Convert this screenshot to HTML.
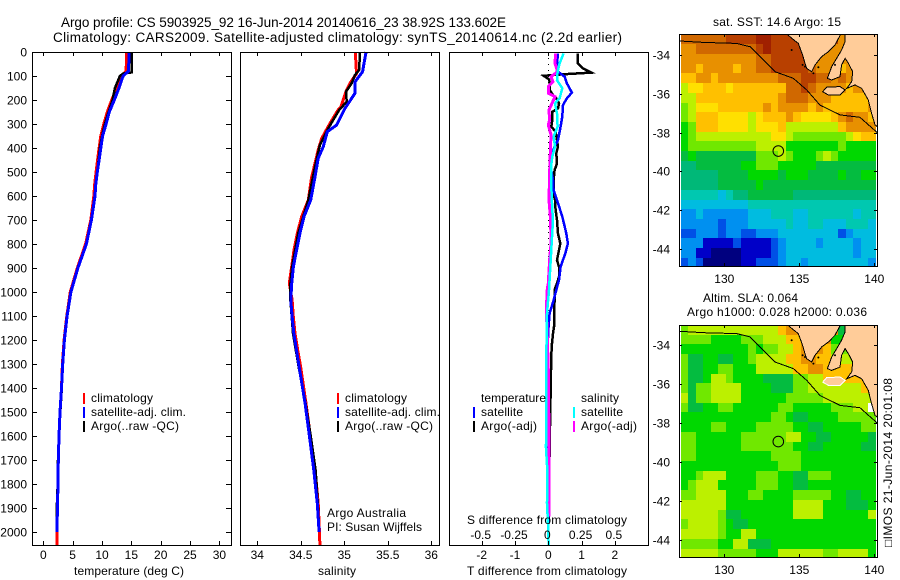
<!DOCTYPE html>
<html>
<head>
<meta charset="utf-8">
<title>Argo profile 5903925_92</title>
<style>
html,body{margin:0;padding:0;background:#fff;}
#chart{display:block;position:absolute;left:0;top:0;}
text{font-family:"Liberation Sans",sans-serif;font-size:12px;fill:#000;}
</style>
</head>
<body>
<svg id="chart" xmlns="http://www.w3.org/2000/svg" width="900" height="580" viewBox="0 0 900 580">
<rect x="0" y="0" width="900" height="580" fill="#fff"/>
<defs>
<clipPath id="clip-map1"><rect x="679.5" y="34.5" width="198" height="232"/></clipPath>
<clipPath id="clip-map2"><rect x="679.5" y="325.5" width="198" height="232"/></clipPath>
</defs>
<text x="61" y="27" style="font-size:13.5px" textLength="445" lengthAdjust="spacing">Argo profile: CS 5903925_92 16-Jun-2014 20140616_23 38.92S 133.602E</text>
<text x="53" y="42" style="font-size:13.5px" textLength="569" lengthAdjust="spacing">Climatology: CARS2009. Satellite-adjusted climatology: synTS_20140614.nc (2.2d earlier)</text>

<g id="temp-panel"></g>
<g id="sal-panel"></g>
<g id="diff-panel"></g>
<g id="sst-map"></g>
<g id="sla-map"></g>

<text x="74" y="575" textLength="110" lengthAdjust="spacing">temperature (deg C)</text>
<text x="318" y="575" textLength="38" lengthAdjust="spacing">salinity</text>
<text x="467" y="575" textLength="160" lengthAdjust="spacing">T difference from climatology</text>
<text x="467" y="524" textLength="160" lengthAdjust="spacing">S difference from climatology</text>

<g>
<rect x="83" y="393" width="2" height="11" fill="#f00"/>
<text x="91" y="402" textLength="62" lengthAdjust="spacing">climatology</text>
<rect x="83" y="407" width="2" height="11" fill="#00f"/>
<text x="91" y="416" textLength="95" lengthAdjust="spacing">satellite-adj. clim.</text>
<rect x="83" y="421" width="2" height="11" fill="#000"/>
<text x="91" y="430" textLength="88" lengthAdjust="spacing">Argo(..raw -QC)</text>
</g>
<g>
<rect x="337" y="393" width="2" height="11" fill="#f00"/>
<text x="345" y="402" textLength="62" lengthAdjust="spacing">climatology</text>
<rect x="337" y="407" width="2" height="11" fill="#00f"/>
<text x="345" y="416" textLength="95" lengthAdjust="spacing">satellite-adj. clim.</text>
<rect x="337" y="421" width="2" height="11" fill="#000"/>
<text x="345" y="430" textLength="88" lengthAdjust="spacing">Argo(..raw -QC)</text>
</g>
<text x="327" y="517" textLength="79" lengthAdjust="spacing">Argo Australia</text>
<text x="327" y="531" textLength="95" lengthAdjust="spacing">PI: Susan Wijffels</text>
<g>
<text x="481" y="402" textLength="65" lengthAdjust="spacing">temperature</text>
<rect x="473" y="407" width="2" height="11" fill="#00f"/>
<text x="481" y="416" textLength="42" lengthAdjust="spacing">satellite</text>
<rect x="473" y="421" width="2" height="11" fill="#000"/>
<text x="481" y="430" textLength="56" lengthAdjust="spacing">Argo(-adj)</text>
<text x="581" y="402" textLength="38" lengthAdjust="spacing">salinity</text>
<rect x="573" y="407" width="2" height="11" fill="#0ff"/>
<text x="581" y="416" textLength="42" lengthAdjust="spacing">satellite</text>
<rect x="573" y="421" width="2" height="11" fill="#f0f"/>
<text x="581" y="430" textLength="56" lengthAdjust="spacing">Argo(-adj)</text>
</g>

<text x="713" y="26" textLength="128" lengthAdjust="spacing">sat. SST: 14.6 Argo: 15</text>
<text x="703" y="302" textLength="95" lengthAdjust="spacing">Altim. SLA: 0.064</text>
<text x="687" y="316" textLength="180" lengthAdjust="spacing">Argo h1000: 0.028 h2000: 0.036</text>
<text transform="translate(892 547) rotate(-90)" x="0" y="0" textLength="169" lengthAdjust="spacing">□IMOS 21-Jun-2014 20:01:08</text>
</svg>

<script>
// ---------- Profile data ----------
const depthTicks = [0,100,200,300,400,500,600,700,800,900,1000,1100,1200,1300,1400,1500,1600,1700,1800,1900,2000];
const tempTicks = [0,5,10,15,20,25,30];
const salTicks = [34,34.5,35,35.5,36];
const salTickLabels = ['34','34.5','35','35.5','36'];
const tDiffTicks = [-2,-1,0,1,2];
const sDiffTicks = [-0.5,-0.25,0,0.25,0.5];
const sDiffTickLabels = ['-0.5','-0.25','0','0.25','0.5'];

const climTempDepth = [0,80,100,150,200,250,300,350,400,450,500,550,600,700,800,900,1000,1100,1200,1300,1400,1500,1600,1700,1800,1900,2000,2055];
const climTemp = [14.2,14.1,13.4,12.5,11.65,10.9,10.3,9.8,9.5,9.25,9.0,8.75,8.6,8.1,7.2,5.8,4.6,4.0,3.55,3.25,3.1,2.85,2.67,2.56,2.5,2.4,2.33,2.33];
const satTempDepth = [0,80,100,150,200,250,300,350,400,450,500,550,600,700,800,900,1000,1100,1200,1300,1400,1500,1600,1700,1800,1900,2000];
const satTemp = [14.65,14.5,13.6,12.9,12.1,11.25,10.7,10.1,9.8,9.5,9.2,8.95,8.8,8.2,7.35,5.9,4.7,4.05,3.6,3.3,3.1,2.85,2.67,2.56,2.5,2.4,2.33];
const argoTempDepth = [0,85,90,100,150,200,250,300,350,400,500,600,700,800,900,1000,1100,1200,1300,1400,1500,1600,1700,1800,1900,1990];
const argoTemp = [15.05,15.05,13.6,13.05,12.2,11.8,11.1,10.5,10.0,9.65,9.2,8.75,8.15,7.3,5.85,4.65,4.0,3.55,3.3,3.15,2.9,2.7,2.5,2.45,2.3,2.3];

const climSalDepth = [0,90,130,165,228,240,297,360,408,464,520,617,686,756,825,894,964,1033,1103,1172,1242,1311,1464,1603,1742,1881,2006,2055];
const climSal = [35.126,35.14,35.065,35.02,34.962,34.931,34.836,34.74,34.70,34.663,34.625,34.586,34.51,34.46,34.422,34.395,34.368,34.40,34.414,34.433,34.464,34.498,34.56,34.61,34.665,34.70,34.715,34.72];
const satSalDepth = [0,47,82,124,172,235,304,332,394,443,520,617,686,756,825,894,964,1033,1103,1172,1242,1311,1464,1603,1742,1881,2000];
const satSal = [35.25,35.226,35.21,35.123,35.123,35.008,34.913,34.805,34.759,34.70,34.663,34.614,34.537,34.49,34.452,34.415,34.395,34.385,34.40,34.42,34.45,34.48,34.55,34.60,34.65,34.69,34.71];
const argoSalDepth = [0,75,96,130,165,207,242,318,387,478,617,756,894,964,1033,1103,1172,1311,1464,1603,1742,1881,1990];
const argoSal = [35.18,35.17,35.123,35.085,35.02,35.028,34.94,34.816,34.72,34.663,34.586,34.47,34.40,34.38,34.38,34.395,34.41,34.475,34.555,34.615,34.67,34.695,34.71];

const argoDiffTDepth = [6,47,68,86,93,99,114,124,158,179,193,214,235,249,283,311,332,367,394,422,464,492,533,589,617,658,700,756,798,825,867,895,936,964,985,1034,1103,1145,1173,1214,1284,1325,1422,1561,1742,1964];
const argoDiffT = [0.89,0.89,1.04,1.29,0.44,-0.14,0.02,0.04,0.04,0.14,0.24,0.32,0.29,0.12,0.12,0.09,0.22,0.26,0.29,0.24,0.26,0.19,0.16,0.16,0.2,0.22,0.26,0.29,0.36,0.32,0.26,0.32,0.32,0.26,0.2,0.19,0.17,0.17,0.14,0.11,0.08,0.08,0.07,0.05,0.03,0.01];
const satDiffTDepth = [6,47,82,103,131,169,193,221,269,311,367,394,436,478,533,575,617,686,756,798,839,895,950,992,1034,1089,1159,1270,1325,1500,1700,2000];
const satDiffT = [0.29,0.26,0.29,0.49,0.56,0.71,0.56,0.44,0.42,0.37,0.29,0.19,0.09,0.07,0.14,0.16,0.26,0.42,0.54,0.59,0.51,0.37,0.32,0.24,0.16,0.04,0,-0.03,-0.04,-0.02,-0.01,0];
const satDiffSDepth = [6,47,82,117,151,193,214,256,311,353,394,436,478,533,658,700,800,895,992,1089,1173,1325,1650,1742,1880,1992,2055];
const satDiffS = [0.115,0.085,0.07,0.065,0.105,0.085,0.05,0.065,0.07,0.04,0.05,0.03,0.02,0.02,0.03,0.035,0.025,0.015,0.005,-0.01,-0.0125,-0.015,-0.0175,-0.0075,-0.01,0,0.002];
const argoDiffSDepth = [6,47,82,103,124,144,172,186,242,283,304,345,422,506,617,700,798,867,964,985,1075,1152,1325,1464,1561,1742,1936];
const argoDiffS = [0.055,0.05,0.07,0.02,0.035,0,0,0.05,0.005,0.01,0,0.02,0.015,0.01,0.005,0.0175,0.02,0.01,0,-0.0075,-0.015,-0.01,0,0.002,0.005,0.005,0.005];

// ---------- Map data (one colour-level character per 0.5 deg cell) ----------
const lonTicks = [130,135,140];
const latTicks = [-34,-36,-38,-40,-42,-44];
const sstRows = [
"eeeeeeffffggfffffffffddddd",
"ddeeeeeeeefgffffffdddddddd",
"ddddddddddeefffffedddddddd",
"ddcddddcddeefffffedddcdddd",
"ccddcddddddddeeeffeededcdd",
"abbcccbccccccceefeddddcddd",
"aacccccccccccdeeedddcccccc",
"9abbbccccccdcddddcdccccccd",
"9acccbbbbabcccdcbbbbcdeddc",
"89cccbbbbabbbcaaaaaaacdddd",
"89aaaaaaaaaabba9999999abcc",
"8999999999aaaa888888898888",
"7877777777999a98889a988888",
"66777777889998888877777777",
"66666777788887888777787788",
"66666777778777777777777777",
"55555456677777766666666666",
"44444444455555555555555555",
"33433333344455544555555455",
"33333233344444544554445554",
"22333233223334444444423444",
"33311112111123444434444344",
"33110000111123444444444344",
"23200000112223443444444443"
];
const slaRows = [
"9aaaaaaaaaaaacddddddd77ddd",
"99998888999aaaccdddd8888aa",
"8888888889899aacdddc999ccc",
"9778877889aaaaccddccaaaccc",
"9778899888aaaaaccddccccccc",
"9778aa98888777799aaccccccc",
"9799aaaa888877799aaaaaaacc",
"a799aaaa88888899999aaaaaaa",
"9778899888888998888 8999aa".replace(' ',''),
"88888888888899877888899999",
"88889988889999988778888899",
"99888888999999aa8877888887",
"99888888999999988778888877",
"99888888888899998888888888",
"88888888888889998888888888",
"889aaa88889998877999888888",
"89aaa888889998877888888888",
"99aaaa88899888899999887788",
"aaaaaa888888888aaaa8887778",
"aaaaa9778888888aaaa888888a",
"9aaaa987788888888888888888",
"aaaaa988aa8888888888888888",
"9999988aa77788888888888888",
"aaaaa99999888aaaaaa99aaaa8"
];
const levelColors = {
  '0':'#00007f','1':'#0000c8','2':'#0050e6','3':'#0090f0','4':'#00bce0','5':'#00c8b0',
  '6':'#00b878','7':'#04bc40','8':'#00d800','9':'#70e800','a':'#bcf000','b':'#ffe000',
  'c':'#ffc000','d':'#e89000','e':'#d06800','f':'#b84000','g':'#a02000'
};
const landLon = [134.17,134.60,134.93,135.22,135.38,135.49,135.82,136.05,136.49,136.94,137.38,137.71,137.71,138.05,138.05,137.82,137.49,137.16,136.87,137.16,137.71,137.82,138.05,138.27,138.56,138.49,138.16,138.71,139.16,139.60,139.82,140.05,140.20,140.20];
const landLat = [-32.92,-33.20,-33.40,-34.00,-34.43,-34.69,-34.86,-34.51,-34.08,-33.83,-33.48,-33.00,-32.92,-32.92,-33.31,-33.74,-34.17,-34.60,-35.20,-35.29,-35.12,-34.51,-34.17,-34.43,-34.86,-35.37,-35.72,-35.54,-35.72,-36.32,-37.01,-37.61,-37.69,-32.92];
const islandLon = [136.56,136.82,137.71,138.05,137.71,136.94];
const islandLat = [-35.89,-35.66,-35.63,-35.80,-36.06,-36.06];
const shelfLon = [127.04,128.6,130.82,131.71,132.38,133.38,134.6,135.49,136.38,137.71,139.04,140.2];
const shelfLat = [-33.28,-33.35,-33.4,-33.57,-34.09,-34.86,-35.2,-35.8,-36.58,-37.09,-37.21,-38.0];
const speckLon = [134.49,135.22,135.38,135.94,136.27,137.38];
const speckLat = [-33.74,-34.51,-34.6,-34.94,-34.63,-34.51];
const argoLon = 133.6;
const argoLat = -38.95;

// ---------- Axis functions ----------
const NS = 'http://www.w3.org/2000/svg';
const PANEL_TOP = 52, PANEL_BOTTOM = 545;
const yDepth = d => PANEL_TOP + 0.24 * d;
const xTemp = t => 43.3 + 5.87 * t;
const xSal = s => 257.3 + 87 * (s - 34);
const xDiffT = t => 548.3 + 33.3 * t;
const xDiffS = s => 548.3 + 133.2 * s;
const xLon = lon => 724.3 + 15 * (lon - 130);
const yLat1 = lat => 55 - 19.4 * (lat + 34);
const yLat2 = lat => 345.3 - 19.45 * (lat + 34);

function make(parent, tag, attrs, text) {
  const el = document.createElementNS(NS, tag);
  for (const k in attrs) el.setAttribute(k, attrs[k]);
  if (text !== undefined) el.textContent = text;
  parent.appendChild(el);
  return el;
}
function points(xs, ys, fx, fy) {
  return xs.map((v, i) => fx(v).toFixed(1) + ',' + fy(ys[i]).toFixed(1)).join(' ');
}
function frame(g, x0, y0, x1, y1) {
  const el = make(g, 'rect', {x:x0+0.5, y:y0+0.5, width:x1-x0, height:y1-y0, fill:'none', stroke:'#000', 'stroke-width':1, 'shape-rendering':'crispEdges'});
  
  
}
function tick(g, x1, y1, x2, y2) {
  const el = make(g, 'line', {x1:x1, y1:y1, x2:x2, y2:y2, stroke:'#000', 'stroke-width':1, 'shape-rendering':'crispEdges'});
  
  
}
function label(g, x, y, str, anchor) {
  const el = make(g, 'text', {x:x, y:y, 'text-anchor':anchor}, str);
  
  
}
function profile(g, xs, depths, fx, color, width, name) {
  const el = make(g, 'polyline', {points:points(xs, depths, fx, yDepth), fill:'none', stroke:color, 'stroke-width':width, 'shape-rendering':'crispEdges', 'stroke-linejoin':'miter'});
  
  
}

// ---------- Temperature panel ----------
const tempG = document.getElementById('temp-panel');
profile(tempG, climTemp, climTempDepth, xTemp, '#f00', 3, 'climatology-temperature-line');
profile(tempG, argoTemp, argoTempDepth, xTemp, '#000', 2.5, 'argo-temperature-line');
profile(tempG, satTemp, satTempDepth, xTemp, '#00f', 3, 'satellite-temperature-line');
frame(tempG, 32, PANEL_TOP, 231, PANEL_BOTTOM);
depthTicks.forEach(d => {
  const y = Math.round(yDepth(d)) + 0.5;
  tick(tempG, 32, y, 37, y);
  tick(tempG, 226, y, 231, y);
  label(tempG, 27, y + 4, String(d), 'end');
});
tempTicks.forEach(t => {
  const x = Math.round(xTemp(t)) + 0.5;
  tick(tempG, x, PANEL_TOP, x, PANEL_TOP + 4);
  tick(tempG, x, PANEL_BOTTOM - 4, x, PANEL_BOTTOM);
  label(tempG, xTemp(t), 559, String(t), 'middle');
});

// ---------- Salinity panel ----------
const salG = document.getElementById('sal-panel');
profile(salG, climSal, climSalDepth, xSal, '#f00', 3, 'climatology-salinity-line');
profile(salG, argoSal, argoSalDepth, xSal, '#000', 2.5, 'argo-salinity-line');
profile(salG, satSal, satSalDepth, xSal, '#00f', 3, 'satellite-salinity-line');
frame(salG, 240, PANEL_TOP, 439, PANEL_BOTTOM);
salTicks.forEach((s, i) => {
  const x = Math.round(xSal(s)) + 0.5;
  tick(salG, x, PANEL_TOP, x, PANEL_TOP + 4);
  tick(salG, x, PANEL_BOTTOM - 4, x, PANEL_BOTTOM);
  label(salG, xSal(s), 559, salTickLabels[i], 'middle');
});

// ---------- Difference panel ----------
const diffG = document.getElementById('diff-panel');
const zeroLine = make(diffG, 'line', {x1:xDiffT(0), y1:PANEL_TOP, x2:xDiffT(0), y2:PANEL_BOTTOM, stroke:'#000', 'stroke-width':1, 'stroke-dasharray':'1 5', 'shape-rendering':'crispEdges'});


profile(diffG, argoDiffT, argoDiffTDepth, xDiffT, '#000', 2.5, 'argo-t-difference-line');
profile(diffG, satDiffT, satDiffTDepth, xDiffT, '#00f', 2.5, 'satellite-t-difference-line');
profile(diffG, argoDiffS, argoDiffSDepth, xDiffS, '#f0f', 3, 'argo-s-difference-line');
profile(diffG, satDiffS, satDiffSDepth, xDiffS, '#0ff', 2.5, 'satellite-s-difference-line');
frame(diffG, 449, PANEL_TOP, 648, PANEL_BOTTOM);
tDiffTicks.forEach(t => {
  const x = Math.round(xDiffT(t)) + 0.5;
  tick(diffG, x, PANEL_TOP, x, PANEL_TOP + 4);
  tick(diffG, x, PANEL_BOTTOM - 4, x, PANEL_BOTTOM);
  label(diffG, xDiffT(t), 559, String(t), 'middle');
});
sDiffTicks.forEach((s, i) => {
  label(diffG, xDiffS(s) - 1, 539, sDiffTickLabels[i], 'middle');
});

// ---------- Maps ----------
function drawMap(g, rows, yLat, clipId, top, bottom, labelY, prefix) {
  const clipped = make(g, 'g', {'clip-path':'url(#' + clipId + ')'});
  
  
  rows.forEach((row, r) => {
    const lat0 = -32.95 - 0.5 * r;
    for (let c = 0; c < row.length; c++) {
      const lon0 = 127.1 + 0.5 * c;
      const x0 = Math.round(xLon(lon0)), x1 = Math.round(xLon(lon0 + 0.5));
      const y0 = Math.round(yLat(lat0)), y1 = Math.round(yLat(lat0 - 0.5));
      const cell = make(clipped, 'rect', {x:x0, y:y0, width:x1 - x0, height:y1 - y0, fill:levelColors[row[c]] || '#fff', 'shape-rendering':'crispEdges'});
      
      
    }
  });
  const land = make(clipped, 'polygon', {points:points(landLon, landLat, xLon, yLat), fill:'#ffcc99', stroke:'#000', 'stroke-width':1, 'shape-rendering':'crispEdges'});
  
  
  const isl = make(clipped, 'polygon', {points:points(islandLon, islandLat, xLon, yLat), fill:'#ffcc99', stroke:prefix === 'sla' ? '#fff' : '#000', 'stroke-width':1, 'shape-rendering':'crispEdges'});
  
  
  speckLon.forEach((lon, i) => {
    const s = make(clipped, 'circle', {cx:xLon(lon), cy:yLat(speckLat[i]), r:1, fill:'#000'});
    
    
  });
  const shelf = make(clipped, 'polyline', {points:points(shelfLon, shelfLat, xLon, yLat), fill:'none', stroke:'#000', 'stroke-width':1, 'shape-rendering':'crispEdges'});
  
  
  const marker = make(g, 'circle', {cx:xLon(argoLon), cy:yLat(argoLat), r:5.3, fill:'none', stroke:'#000', 'stroke-width':1});
  
  
  frame(g, 679, top, 877, bottom);
  lonTicks.forEach(lon => {
    const x = Math.round(xLon(lon)) + 0.5;
    tick(g, x, top, x, top + 3);
    tick(g, x, bottom - 3, x, bottom);
    label(g, xLon(lon), labelY, String(lon), 'middle');
  });
  latTicks.forEach(lat => {
    const y = Math.round(yLat(lat)) + 0.5;
    tick(g, 679, y, 682, y);
    tick(g, 874, y, 877, y);
    label(g, 670, y + 4, String(lat), 'end');
  });
}
drawMap(document.getElementById('sst-map'), sstRows, yLat1, 'clip-map1', 34, 266, 283, 'sst');
drawMap(document.getElementById('sla-map'), slaRows, yLat2, 'clip-map2', 325, 557, 574, 'sla');
</script>
</body>
</html>
